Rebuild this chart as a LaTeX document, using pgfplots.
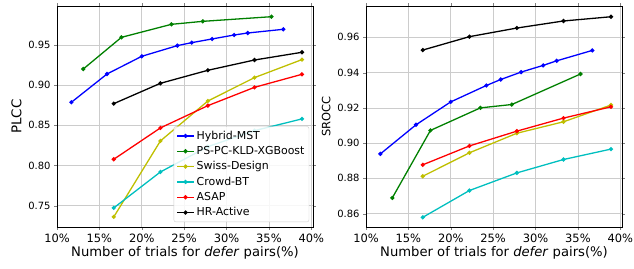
\documentclass[border=0pt]{standalone}
\usepackage{pgfplots}
\pgfplotsset{compat=1.18}
\usepackage{fontspec}
\setmainfont{DejaVu Sans}
\definecolor{mb}{rgb}{0,0,1}
\definecolor{mg}{rgb}{0,0.5,0}
\definecolor{my}{rgb}{0.75,0.75,0}
\definecolor{mc}{rgb}{0,0.75,0.75}
\definecolor{mr}{rgb}{1,0,0}
\definecolor{mk}{rgb}{0,0,0}
\pgfplotsset{
  common/.style={
    scale only axis, width=256bp, height=221bp,
    xmin=10, xmax=40.2,
    xtick={10,15,20,25,30,35,40},
    xticklabel={\pgfmathprintnumber{\tick}\%},
    /pgf/number format/assume math mode=true,
    grid=major, major grid style={gray!40, line width=0.6pt},
    tick align=outside, major tick length=3pt,
    xticklabel style={font=\fontsize{11.5}{12}\selectfont},
    yticklabel style={font=\fontsize{10}{12}\selectfont, /pgf/number format/.cd, fixed, fixed zerofill, precision=2},
    xlabel={Number of trials for \textit{defer} pairs(\%)},
    xlabel style={font=\fontsize{13.2}{15}\selectfont, yshift=3bp},
    axis line style={black, line width=0.6pt},
    every axis plot/.append style={line width=1.3pt, mark=*, mark size=1.4pt},
  }
}
\begin{document}
\begin{tikzpicture}
\path[use as bounding box] (0bp,0bp) rectangle (634bp,269bp);
\begin{axis}[common, at={(57bp,42bp)}, anchor=south west,
  ymin=0.7235, ymax=0.9985,
  ytick={0.75,0.80,0.85,0.90,0.95},
  ylabel={PLCC}, ylabel style={font=\fontsize{13.5}{15}\selectfont},
  legend style={at={(0.985,0.022)}, anchor=south east, font=\fontsize{11}{13}\selectfont,
    draw=gray!40, rounded corners=2pt, fill=white, fill opacity=0.85, text opacity=1,
    row sep=1.6pt, inner sep=2.5pt},
  legend cell align=left,
  legend image post style={mark size=1.4pt},
]
\addplot[color=mb] coordinates {(11.7,0.8787)(15.9,0.9139)(20.0,0.9359)(24.2,0.9492)(25.9,0.9529)(28.3,0.9575)(30.9,0.9624)(32.5,0.9649)(36.7,0.9695)};
\addlegendentry{Hybrid-MST}
\addplot[color=mg] coordinates {(13.1,0.9201)(17.6,0.9595)(23.5,0.9757)(27.2,0.9794)(35.3,0.9852)};
\addlegendentry{PS-PC-KLD-XGBoost}
\addplot[color=my] coordinates {(16.7,0.7361)(22.2,0.8306)(27.8,0.8803)(33.3,0.9094)(38.9,0.9318)};
\addlegendentry{Swiss-Design}
\addplot[color=mc] coordinates {(16.7,0.7473)(22.2,0.7920)(27.8,0.8235)(33.3,0.8434)(38.9,0.8580)};
\addlegendentry{Crowd-BT}
\addplot[color=mr] coordinates {(16.7,0.8078)(22.2,0.8468)(27.8,0.8745)(33.3,0.8973)(38.9,0.9135)};
\addlegendentry{ASAP}
\addplot[color=mk] coordinates {(16.7,0.8770)(22.2,0.9023)(27.8,0.9185)(33.3,0.9313)(38.9,0.9409)};
\addlegendentry{HR-Active}
\end{axis}
\begin{axis}[common, at={(366bp,42bp)}, anchor=south west,
  ymin=0.8524, ymax=0.9778,
  ytick={0.86,0.88,0.90,0.92,0.94,0.96},
  ylabel={SROCC}, ylabel style={font=\fontsize{11.5}{13}\selectfont},
]
\addplot[color=mk] coordinates {(16.7,0.9528)(22.2,0.9604)(27.8,0.9653)(33.3,0.9693)(38.9,0.9717)};
\addplot[color=mb] coordinates {(11.7,0.8939)(15.9,0.9104)(20.0,0.9234)(24.2,0.9327)(25.9,0.9361)(28.3,0.9403)(30.9,0.9441)(32.5,0.9467)(36.7,0.9526)};
\addplot[color=mg] coordinates {(13.1,0.8689)(17.6,0.9072)(23.5,0.9200)(27.2,0.9219)(35.3,0.9392)};
\addplot[color=my] coordinates {(16.7,0.8812)(22.2,0.8945)(27.8,0.9056)(33.3,0.9121)(38.9,0.9216)};
\addplot[color=mr] coordinates {(16.7,0.8877)(22.2,0.8984)(27.8,0.9068)(33.3,0.9142)(38.9,0.9206)};
\addplot[color=mc] coordinates {(16.7,0.8579)(22.2,0.8731)(27.8,0.8831)(33.3,0.8907)(38.9,0.8966)};
\end{axis}
\end{tikzpicture}
\end{document}
